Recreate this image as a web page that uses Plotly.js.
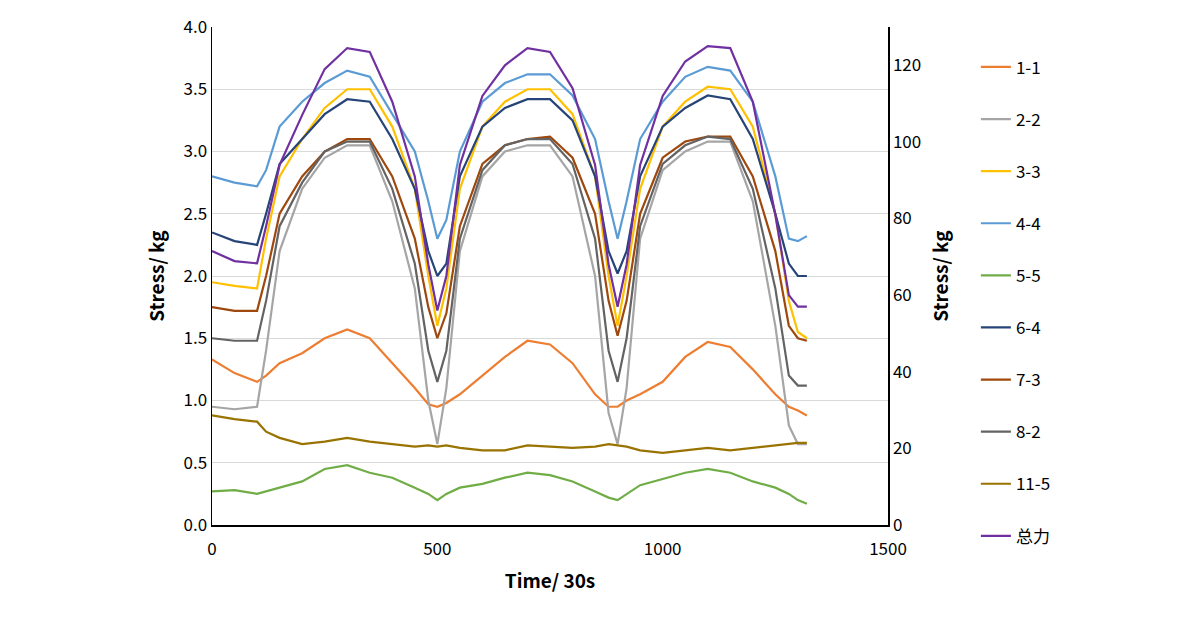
<!DOCTYPE html>
<html>
<head>
<meta charset="utf-8">
<script src="https://cdn.plot.ly/plotly-3.0.1.min.js"></script>
<style>body{margin:0;background:#fff}#chart{width:1200px;height:630px}</style>
</head>
<body>
<div id="chart"></div>
<script>
var time = [0,50,100,120,150,200,250,300,350,400,450,480,500,520,550,600,650,700,750,800,850,880,900,920,950,1000,1050,1100,1150,1200,1250,1280,1300,1320];

var s1_1  = [1.33,1.22,1.15,1.2,1.3,1.38,1.5,1.57,1.5,1.3,1.1,0.97,0.95,0.98,1.05,1.2,1.35,1.48,1.45,1.3,1.05,0.95,0.95,1.0,1.05,1.15,1.35,1.47,1.43,1.25,1.05,0.95,0.92,0.88];
var s2_2  = [0.95,0.93,0.95,1.4,2.2,2.7,2.95,3.05,3.05,2.6,1.9,1.0,0.65,1.1,2.2,2.8,3.0,3.05,3.05,2.8,2.0,0.9,0.65,1.1,2.3,2.85,3.0,3.08,3.08,2.6,1.6,0.8,0.65,0.65];
var s3_3  = [1.95,1.92,1.9,2.3,2.8,3.1,3.35,3.5,3.5,3.2,2.7,2.0,1.6,1.9,2.7,3.2,3.4,3.5,3.5,3.3,2.8,2.0,1.6,2.0,2.7,3.2,3.4,3.52,3.5,3.2,2.5,1.8,1.55,1.5];
var s4_4  = [2.8,2.75,2.72,2.85,3.2,3.4,3.55,3.65,3.6,3.3,3.0,2.6,2.3,2.45,3.0,3.4,3.55,3.62,3.62,3.45,3.1,2.6,2.3,2.6,3.1,3.4,3.6,3.68,3.65,3.4,2.8,2.3,2.28,2.32];
var s5_5  = [0.27,0.28,0.25,0.27,0.3,0.35,0.45,0.48,0.42,0.38,0.3,0.25,0.2,0.25,0.3,0.33,0.38,0.42,0.4,0.35,0.27,0.22,0.2,0.25,0.32,0.37,0.42,0.45,0.42,0.35,0.3,0.25,0.2,0.17];
var s6_4  = [2.35,2.28,2.25,2.5,2.9,3.1,3.3,3.42,3.4,3.1,2.7,2.2,2.0,2.1,2.8,3.2,3.35,3.42,3.42,3.25,2.8,2.2,2.02,2.2,2.8,3.2,3.35,3.45,3.42,3.1,2.5,2.1,2.0,2.0];
var s7_3  = [1.75,1.72,1.72,2.0,2.5,2.8,3.0,3.1,3.1,2.8,2.3,1.75,1.5,1.7,2.4,2.9,3.05,3.1,3.12,2.95,2.5,1.8,1.52,1.8,2.5,2.95,3.08,3.12,3.12,2.8,2.2,1.6,1.5,1.48];
var s8_2  = [1.5,1.48,1.48,1.8,2.4,2.75,3.0,3.08,3.08,2.7,2.1,1.4,1.15,1.4,2.3,2.85,3.05,3.1,3.1,2.9,2.3,1.4,1.15,1.5,2.4,2.9,3.05,3.12,3.1,2.7,1.9,1.2,1.12,1.12];
var s11_5 = [0.88,0.85,0.83,0.75,0.7,0.65,0.67,0.7,0.67,0.65,0.63,0.64,0.63,0.64,0.62,0.6,0.6,0.64,0.63,0.62,0.63,0.65,0.64,0.63,0.6,0.58,0.6,0.62,0.6,0.62,0.64,0.65,0.66,0.66];
var total = [71.5,68.9,68.3,78,94,107,119,124.5,123.5,110.5,91,68,56,65,94,112,120,124.5,123.5,114,94,68,57,68,94,112,121,125,124.5,110.5,81,60,57,57];

var names  = ['1-1','2-2','3-3','4-4','5-5','6-4','7-3','8-2','11-5','总力'];
var series = [s1_1,s2_2,s3_3,s4_4,s5_5,s6_4,s7_3,s8_2,s11_5,total];
var colors = ['#ED7D31','#A5A5A5','#FFC000','#5B9BD5','#70AD47','#264478','#9E480E','#636363','#997300','#7030A0'];

var data = [];
for (let i = 0; i < names.length; i++){
    data.push({
        type: 'scatter', mode: 'lines',
        x: time, y: series[i], name: names[i],
        legendgroup: 'g' + i,
        yaxis: i == 9 ? 'y2' : 'y',
        line: {color: colors[i], width: 2.2}
    });
}

var layout = {
    width: 1200, height: 630,
    margin: {l: 212, r: 312, t: 27, b: 105},
    font: {family: 'Noto Sans CJK SC, Noto Sans', size: 17, color: '#000'},
    plot_bgcolor: '#fff', paper_bgcolor: '#fff',
    xaxis: {range: [0, 1500], dtick: 500, showgrid: false, zeroline: false,
        showline: true, linecolor: '#000', linewidth: 1.5, ticks: '', ticklabelstandoff: 8,
        title: {text: '<b>Time/ 30s</b>', font: {size: 19}, standoff: 16}},
    yaxis: {range: [0, 4], dtick: 0.5, tickformat: '.1f', gridcolor: '#d9d9d9', zeroline: false,
        showline: true, linecolor: '#000', linewidth: 1.5, ticks: '',
        title: {text: '<b>Stress/ kg</b>', font: {size: 19}, standoff: 14}},
    yaxis2: {overlaying: 'y', side: 'right', range: [0, 130], tickvals: [0,20,40,60,80,100,120],
        showgrid: false, zeroline: false, showline: true, linecolor: '#000', linewidth: 1.5, ticks: '',
        title: {text: '<b>Stress/ kg</b>', font: {size: 19}, standoff: 14}},
    legend: {x: 1.13, xanchor: 'left', y: 0.955, yanchor: 'top', traceorder: 'grouped',
        tracegroupgap: 27, font: {size: 17, family: 'Noto Sans CJK SC'}},
    showlegend: true
};

Plotly.newPlot('chart', data, layout, {staticPlot: true});
</script>
</body>
</html>
